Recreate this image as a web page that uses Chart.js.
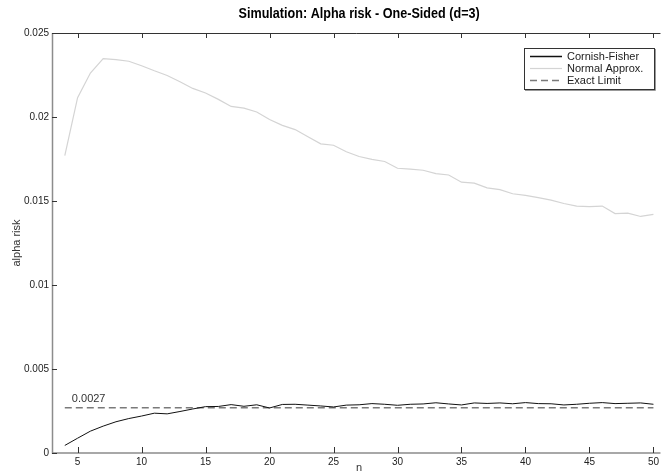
<!DOCTYPE html>
<html>
<head>
<meta charset="utf-8">
<script src="https://cdn.jsdelivr.net/npm/chart.js@4.4.1/dist/chart.umd.min.js"></script>
<style>
  html, body { margin: 0; padding: 0; background: #fff; }
  #wrap { width: 662px; height: 475px; }
</style>
</head>
<body>
<div id="wrap"><canvas id="alphaChart"></canvas></div>
<script>
// sample sizes
const nValues = [4, 5, 6, 7, 8, 9, 10, 11, 12, 13, 14, 15, 16, 17, 18, 19, 20, 21, 22, 23, 24, 25, 26,
    27, 28, 29, 30, 31, 32, 33, 34, 35, 36, 37, 38, 39, 40, 41, 42, 43, 44, 45, 46, 47, 48, 49, 50];

// simulated alpha risk, Cornish-Fisher limits
const cornishFisher = [0.00045, 0.00088, 0.00130, 0.00160, 0.00186, 0.00205, 0.00220, 0.00237, 0.00233,
    0.00247, 0.00262, 0.00276, 0.00277, 0.00288, 0.00278, 0.00287, 0.00268, 0.00289, 0.00290, 0.00285,
    0.00280, 0.00274, 0.00285, 0.00287, 0.00294, 0.00290, 0.00284, 0.00290, 0.00292, 0.00299, 0.00292,
    0.00286, 0.00298, 0.00295, 0.00298, 0.00293, 0.00300, 0.00294, 0.00293, 0.00286, 0.00290, 0.00296,
    0.00300, 0.00294, 0.00296, 0.00298, 0.00290];

// simulated alpha risk, normal approximation limits
const normalApprox = [0.01770, 0.02115, 0.02262, 0.02347, 0.02342, 0.02332, 0.02305, 0.02275, 0.02247,
    0.02210, 0.02170, 0.02143, 0.02105, 0.02063, 0.02053, 0.02030, 0.01985, 0.01950, 0.01925, 0.01882,
    0.01840, 0.01832, 0.01793, 0.01765, 0.01748, 0.01735, 0.01695, 0.01690, 0.01683, 0.01663, 0.01655,
    0.01612, 0.01606, 0.01578, 0.01568, 0.01543, 0.01533, 0.01520, 0.01505, 0.01485, 0.01470, 0.01466,
    0.01470, 0.01425, 0.01428, 0.01408, 0.01420];

// exact one-sided limit for d=3
const exactLimit = 0.0027;
const exactLine = nValues.map(() => exactLimit);

const xTicks = [5, 10, 15, 20, 25, 30, 35, 40, 45, 50];
const yTicks = [0, 0.005, 0.01, 0.015, 0.02, 0.025];
const yTickLabels = ['0', '0.005', '0.01', '0.015', '0.02', '0.025'];

const FONT = '"Liberation Sans", Arial, Helvetica, sans-serif';

function toPoints(values) {
    return nValues.map((n, i) => ({ x: n, y: values[i] }));
}

// draws the matlab-style frame, title, labels and the boxed legend
const matlabFrame = {
    id: 'matlabFrame',
    afterDraw(chart) {
        const ctx = chart.ctx;
        const area = chart.chartArea;
        const xs = chart.scales.x;
        const ys = chart.scales.y;

        ctx.save();

        // axes lines
        ctx.lineWidth = 1;
        ctx.strokeStyle = '#333';
        ctx.beginPath();
        ctx.moveTo(area.left, area.top + 0.5);
        ctx.lineTo(area.right, area.top + 0.5);
        ctx.stroke();

        ctx.strokeStyle = '#8c8c8c';
        ctx.lineWidth = 1.5;
        ctx.beginPath();
        ctx.moveTo(area.left + 0.5, area.top);
        ctx.lineTo(area.left + 0.5, area.bottom);
        ctx.lineTo(area.right, area.bottom);
        ctx.stroke();

        // inward ticks
        ctx.lineWidth = 1;
        ctx.strokeStyle = '#333';
        ctx.beginPath();
        xTicks.forEach(v => {
            const px = Math.round(xs.getPixelForValue(v)) + 0.5;
            ctx.moveTo(px, area.bottom);
            ctx.lineTo(px, area.bottom - 6);
            ctx.moveTo(px, area.top);
            ctx.lineTo(px, area.top + 5);
        });
        yTicks.forEach(v => {
            const py = Math.round(ys.getPixelForValue(v)) + 0.5;
            ctx.moveTo(area.left, py);
            ctx.lineTo(area.left + 5, py);
        });
        ctx.stroke();

        // title (condensed a bit, like the original's narrow helvetica)
        const midX = xs.getPixelForValue(27);
        ctx.save();
        ctx.translate(midX, 14);
        ctx.scale(0.84, 1);
        ctx.fillStyle = '#000';
        ctx.font = 'bold 15px ' + FONT;
        ctx.textAlign = 'center';
        ctx.textBaseline = 'middle';
        ctx.fillText('Simulation: Alpha risk - One-Sided (d=3)', 0, 0);
        ctx.restore();

        // axis titles
        ctx.font = '11px ' + FONT;
        ctx.fillStyle = '#333';
        ctx.textAlign = 'center';
        ctx.textBaseline = 'middle';
        ctx.fillText('n', midX, 468);
        ctx.save();
        ctx.translate(17, (area.top + area.bottom) / 2);
        ctx.rotate(-Math.PI / 2);
        ctx.fillText('alpha risk', 0, 0);
        ctx.restore();

        // limit annotation
        ctx.textAlign = 'left';
        ctx.textBaseline = 'alphabetic';
        ctx.fillText('0.0027', xs.getPixelForValue(4.55), ys.getPixelForValue(exactLimit) - 6);

        // legend box
        const lx = 524, ly = 48, lw = 130, lh = 41;
        ctx.fillStyle = '#fff';
        ctx.fillRect(lx, ly, lw, lh);
        ctx.strokeStyle = '#999';
        ctx.lineWidth = 1;
        ctx.beginPath();
        ctx.moveTo(lx + 1, ly + lh + 1.5);
        ctx.lineTo(lx + lw + 1.5, ly + lh + 1.5);
        ctx.lineTo(lx + lw + 1.5, ly + 1);
        ctx.stroke();
        ctx.strokeStyle = '#333';
        ctx.strokeRect(lx + 0.5, ly + 0.5, lw, lh);

        const order = [1, 0, 2];
        ctx.font = '11px ' + FONT;
        ctx.textBaseline = 'middle';
        order.forEach((di, row) => {
            const ds = chart.data.datasets[di];
            const y = ly + 8.5 + row * 12;
            ctx.strokeStyle = ds.borderColor;
            ctx.lineWidth = di === 1 ? 1.5 : ds.borderWidth;
            ctx.setLineDash(ds.borderDash || []);
            ctx.beginPath();
            ctx.moveTo(lx + 6, y);
            ctx.lineTo(lx + 38, y);
            ctx.stroke();
            ctx.setLineDash([]);
            ctx.fillStyle = '#222';
            ctx.fillText(ds.label, lx + 43, y);
        });

        ctx.restore();
    }
};

function initChart() {
    const ctx = document.getElementById('alphaChart').getContext('2d');
    new Chart(ctx, {
        type: 'line',
        data: {
            datasets: [
                {
                    label: 'Normal Approx.',
                    data: toPoints(normalApprox),
                    borderColor: '#d4d4d4',
                    borderWidth: 1.2,
                    pointRadius: 0,
                    tension: 0
                },
                {
                    label: 'Cornish-Fisher',
                    data: toPoints(cornishFisher),
                    borderColor: '#111',
                    borderWidth: 1,
                    pointRadius: 0,
                    tension: 0
                },
                {
                    label: 'Exact Limit',
                    data: toPoints(exactLine),
                    borderColor: '#7a7a7a',
                    borderWidth: 1.5,
                    borderDash: [7, 4],
                    pointRadius: 0,
                    tension: 0
                }
            ]
        },
        options: {
            responsive: true,
            maintainAspectRatio: false,
            animation: false,
            layout: { padding: { top: 33, right: 0, left: 0, bottom: 0 } },
            plugins: {
                legend: { display: false },
                title: { display: false },
                tooltip: { enabled: false }
            },
            scales: {
                x: {
                    type: 'linear',
                    min: 3,
                    max: 50.55,
                    grid: { display: false, drawTicks: false },
                    border: { display: false },
                    afterBuildTicks: s => { s.ticks = xTicks.map(v => ({ value: v })); },
                    afterFit: s => { s.height = 22; },
                    ticks: {
                        padding: 3,
                        maxRotation: 0,
                        autoSkip: false,
                        color: '#222',
                        font: { family: FONT, size: 10 }
                    }
                },
                y: {
                    min: 0,
                    max: 0.025,
                    grid: { display: false, drawTicks: false },
                    border: { display: false },
                    afterBuildTicks: s => { s.ticks = yTicks.map(v => ({ value: v })); },
                    afterFit: s => { s.width = 52; },
                    ticks: {
                        padding: 3,
                        autoSkip: false,
                        color: '#222',
                        font: { family: FONT, size: 10 },
                        callback: (v, i) => yTickLabels[i]
                    }
                }
            }
        },
        plugins: [matlabFrame]
    });
}

window.onload = () => {
    initChart();
};
</script>
</body>
</html>
